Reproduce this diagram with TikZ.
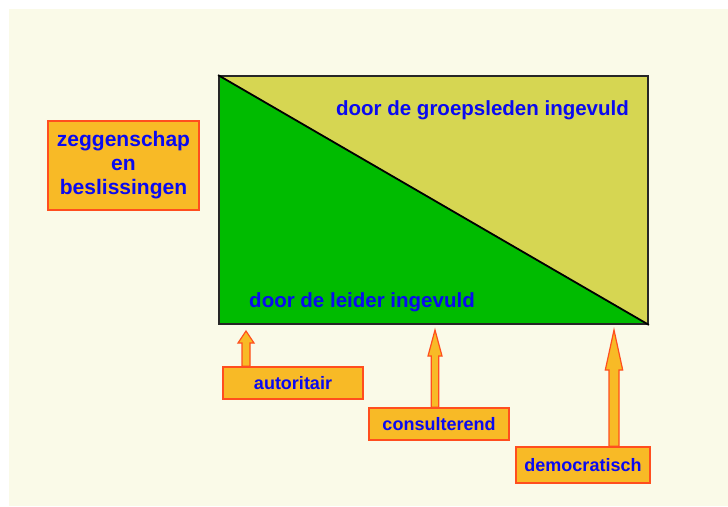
\documentclass[tikz,border=0pt]{standalone}
\usepackage{fontspec}
\setmainfont{Liberation Sans}
\usepackage{tikz}
\usetikzlibrary{backgrounds}
\usetikzlibrary{calc}
\definecolor{achtergrond}{RGB}{250,250,232}
\definecolor{groen}{RGB}{0,187,0}
\definecolor{geel}{RGB}{214,214,82}
\definecolor{oranje}{RGB}{248,186,38}
\definecolor{rand}{RGB}{255,78,30}
\definecolor{tekstblauw}{RGB}{10,10,240}
\newcommand\kaderwidth{140pt}
\newcommand\kaderheight{32pt}
\tikzset{
    tekst/.style = {text=tekstblauw, font=\bfseries\fontsize{20.5}{24}\selectfont, inner sep=0pt},
    kader/.style = {draw=rand, fill=oranje, line width=1.4pt, text=tekstblauw, inner sep=0pt, font=\bfseries\fontsize{18}{22}\selectfont, minimum width=\kaderwidth, minimum height=\kaderheight},
    pijl/.style = {draw=rand, fill=oranje, line width=1.2pt, line join=miter},
    veld/.style = {draw=black!85, line width=1.8pt, minimum width=429pt, minimum height=248pt, inner sep=0pt},
}
\newcommand\blokpijl[5]{%
    \draw[pijl] let \p1=(#1), \p2=(#2) in
        (\x1-#3,\y1) -- (\x1-#3,\y2-#5) -- (\x1-#4,\y2-#5) -- (\x2,\y2)
        -- (\x1+#4,\y2-#5) -- (\x1+#3,\y2-#5) -- (\x1+#3,\y1) -- cycle;}

\begin{document}
\begin{tikzpicture}[x=1pt,y=-1pt]
    \useasboundingbox (0,0) rectangle (728,506);
    \node[veld] (veld) at (433.5,200) {};
    \begin{scope}[on background layer]
        \fill[achtergrond] (9,9) rectangle (728,506);
        \fill[geel] (veld.north west) -- (veld.north east) -- (veld.south east) -- cycle;
        \fill[groen] (veld.north west) -- (veld.south west) -- (veld.south east) -- cycle;
    \end{scope}
    \draw[line width=1.8pt] (veld.north west) -- (veld.south east);
    \node[tekst, anchor=base] (groepsleden) at (482.5,115) {door de groepsleden ingevuld};
    \node[tekst, anchor=base] (leider) at (362,307) {door de leider ingevuld};

    \node[kader, font=\bfseries\fontsize{21}{24}\selectfont, minimum width=151pt, minimum height=89pt, align=center] (zeggenschap) at (123.5,165.5) {zeggenschap\\en\\beslissingen};

    \node[kader] (autoritair) at (293,383) {autoritair};
    \node[kader] (consulterend) at (439,424) {consulterend};
    \node[kader, minimum width=134pt, minimum height=36pt] (democratisch) at (583,465) {democratisch};

    \coordinate (tip1) at (246,331);
    \coordinate (tip2) at (435,330);
    \coordinate (tip3) at (614,330);
    \blokpijl{autoritair.north -| tip1}{tip1}{4pt}{8pt}{12pt}
    \blokpijl{consulterend.north -| tip2}{tip2}{3.7pt}{7pt}{26pt}
    \blokpijl{democratisch.north -| tip3}{tip3}{5pt}{8.7pt}{40pt}
\end{tikzpicture}
\end{document}
